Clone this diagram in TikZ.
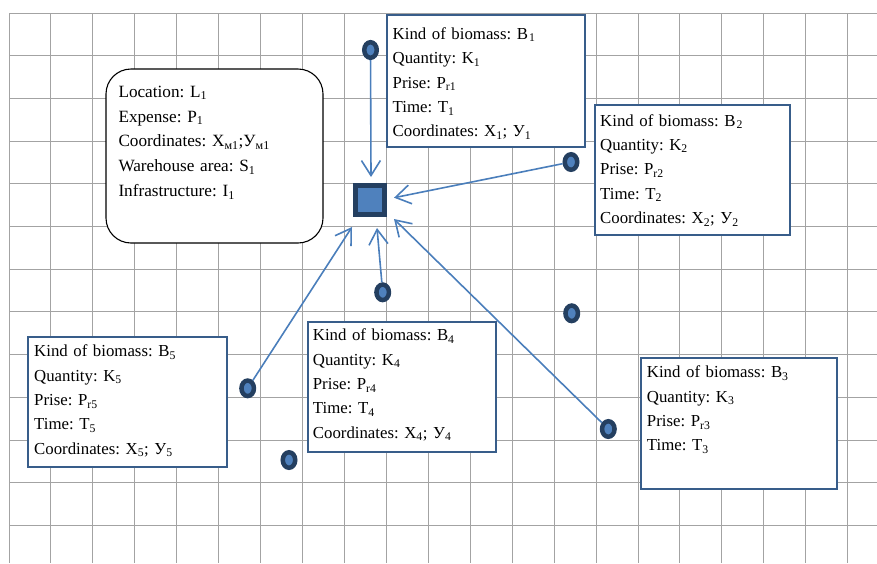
\documentclass[tikz,border=0pt]{standalone}
\usepackage{fontspec}
\setmainfont{Liberation Serif}
\usetikzlibrary{arrows.meta,shapes.geometric}
\definecolor{gridc}{HTML}{A3A3A3}
\definecolor{navy}{HTML}{243F60}
\definecolor{lblue}{HTML}{4F81BD}
\definecolor{arrc}{HTML}{4A7EBB}
\definecolor{boxc}{HTML}{385D8A}
\newcommand\subs[1]{\textsubscript{#1}}
\frenchspacing
\begin{document}
\begin{tikzpicture}[x=1pt,y=-1pt,
  gridline/.style={gridc,line width=1pt},
  infobox/.style={draw=boxc,line width=1.4pt,fill=white,anchor=north west,outer sep=0pt,inner sep=0pt},
  locbox/.style={draw=black,line width=1.1pt,fill=white,rounded corners=25pt,anchor=north west,outer sep=0pt,inner sep=0pt},
  infotext/.style={anchor=base west,inner sep=0pt,align=left,text width=195pt,font=\fontsize{16.8}{24.4}\selectfont\frenchspacing},
  loctext/.style={anchor=base west,inner sep=0pt,align=left,text width=200pt,font=\fontsize{17.2}{24.8}\selectfont\frenchspacing},
  dot/.style={ellipse,draw=navy,line width=4.5pt,fill=lblue,minimum width=12.5pt,minimum height=15.5pt,inner sep=0pt},
  hub/.style={rectangle,draw=navy,line width=5pt,fill=lblue,minimum size=29pt,inner sep=0pt},
  arr/.style={arrc,line width=1.6pt,-{Straight Barb[length=15pt,width=19pt]}}
]
\useasboundingbox (0,0) rectangle (877,563);
% grid
\foreach \i in {0,...,20} \draw[gridline] ({9+41.935*\i},13.3) -- ({9+41.935*\i},563);
\foreach \j in {0,...,12} \draw[gridline] (9,{13.3+42.67*\j}) -- (877,{13.3+42.67*\j});

% tips of arrows
\coordinate (t1) at (371,177);
\coordinate (t2) at (394,197.7);
\coordinate (t3) at (394,219);
\coordinate (t4) at (377,228);
\coordinate (t5) at (352,227);

% dots
\node[dot] (d1) at (370.5,50) {};
\node[dot] (d2) at (571,162) {};
\node[dot] (d3) at (608.3,429) {};
\node[dot] (d4) at (382.7,292.3) {};
\node[dot] (d5) at (247.7,388.3) {};
\node[dot] (d6) at (571.7,313.3) {};
\node[dot] (d7) at (289,460) {};

% arrows
\draw[arr] (d1) -- (t1);
\draw[arr] (d2) -- (t2);
\draw[arr] (d3) -- (t3);
\draw[arr] (d4) -- (t4);
\draw[arr] (d5) -- (t5);

% hub
\node[hub] (hub) at (369.5,200.3) {};

% location box
\node[locbox,minimum width=217pt,minimum height=174pt] (loc) at (106,69) {};
\node[loctext] (loct) at (118.3,97.3) {Location: L\subs{1}\\Expense: P\subs{1}\\Coordinates: X\subs{м1};У\subs{м1}\\Warehouse area: S\subs{1}\\Infrastructure: I\subs{1}};

% biomass boxes
\node[infobox,minimum width=198pt,minimum height=132pt] (b1) at (387,15) {};
\node[infotext] (b1t) at (392.5,39.3) {Kind of biomass: B\kern1pt\subs{1}\\Quantity: K\subs{1}\\Prise: P\subs{r1}\\Time: T\subs{1}\\Coordinates: X\subs{1}; У\subs{1}};

\node[infobox,minimum width=195pt,minimum height=130pt] (b2) at (595,105) {};
\node[infotext] (b2t) at (600,126) {Kind of biomass: B\kern1pt\subs{2}\\Quantity: K\subs{2}\\Prise: P\subs{r2}\\Time: T\subs{2}\\Coordinates: X\subs{2}; У\subs{2}};

\node[infobox,minimum width=196pt,minimum height=131pt] (b3) at (641,358) {};
\node[infotext] (b3t) at (646.7,377.7) {Kind of biomass: B\subs{3}\\Quantity: K\subs{3}\\Prise: P\subs{r3}\\Time: T\subs{3}};

\node[infobox,minimum width=188pt,minimum height=130pt] (b4) at (308,322) {};
\node[infotext] (b4t) at (312.7,340.7) {Kind of biomass: B\subs{4}\\Quantity: K\subs{4}\\Prise: P\subs{r4}\\Time: T\subs{4}\\Coordinates: X\subs{4}; У\subs{4}};

\node[infobox,minimum width=199pt,minimum height=130pt] (b5) at (28,337) {};
\node[infotext] (b5t) at (34,356.7) {Kind of biomass: B\subs{5}\\Quantity: K\subs{5}\\Prise: P\subs{r5}\\Time: T\subs{5}\\Coordinates: X\subs{5}; У\subs{5}};
\end{tikzpicture}
\end{document}
